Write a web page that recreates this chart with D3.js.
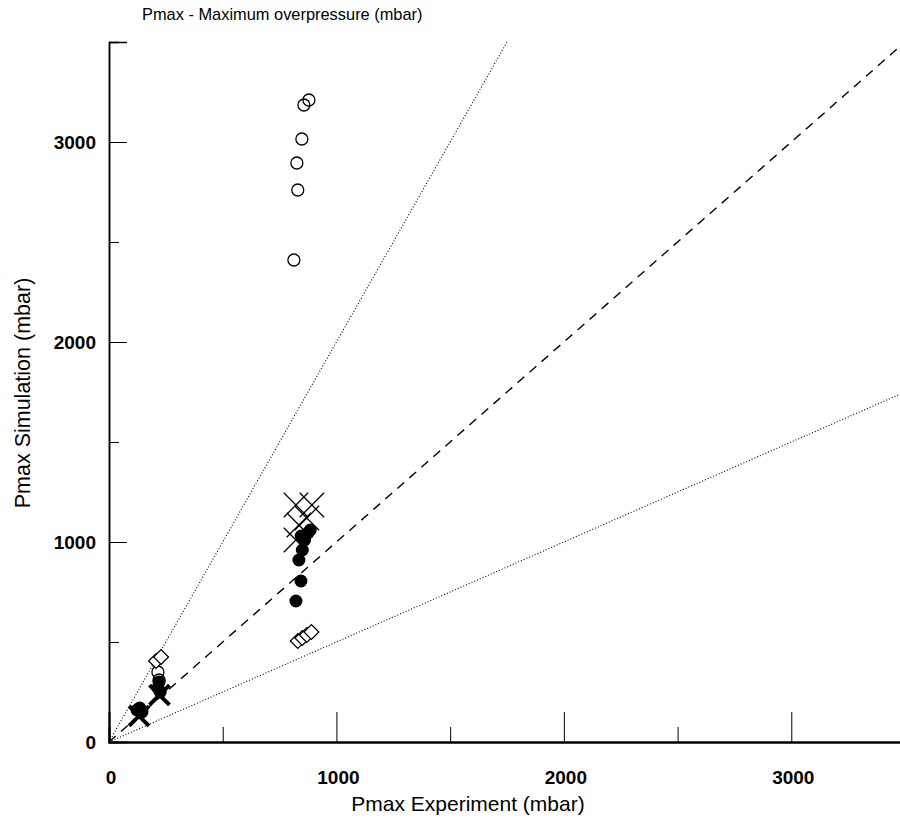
<!DOCTYPE html>
<html>
<head>
<meta charset="utf-8">
<script src="https://cdn.jsdelivr.net/npm/d3@7"></script>
<style>
  body { margin: 0; background: #fff; }
  text { font-family: "Liberation Sans", Arial, sans-serif; fill: #000; }
</style>
</head>
<body>
<svg width="900" height="818"></svg>
<script>
// data (experiment, simulation) in mbar
const openCircles = [[879, 3210], [857, 3185], [848, 3015], [826, 2895], [830, 2760], [813, 2410], [215, 350], [220, 310]];
const filledCircles = [[822, 705], [844, 805], [835, 910], [850, 960], [860, 1010], [845, 1030], [875, 1045], [885, 1060], [220, 300], [215, 270], [225, 250], [123, 160], [135, 170], [145, 150]];
const crosses = [[822, 1185], [892, 1185], [870, 1120], [835, 1085], [822, 1010]];
const boldCrosses = [[222, 235], [132, 130]];
const diamonds = [[830, 505], [850, 520], [870, 535], [890, 550], [207, 405], [229, 425]];
const majorTicks = [1000, 2000, 3000];
const minorTicks = [500, 1500, 2500];
const zeroTick = [0];

const svg = d3.select("svg");

const x = d3.scaleLinear().domain([0, 3500]).range([109, 905]);
const y = d3.scaleLinear().domain([0, 3500]).range([742, 42]);

// reference lines: y = x, y = 2x, y = x/2
const lines = [
  { pts: [[0, 0], [3500, 3500]], dash: "9,7", w: 1.4 },
  { pts: [[0, 0], [1750, 3500]], dash: "1,2", w: 1.1 },
  { pts: [[0, 0], [3500, 1750]], dash: "1,2", w: 1.1 }
];
const line = d3.line().x(d => x(d[0])).y(d => y(d[1]));
svg.selectAll("path.ref")
  .data(lines)
  .enter()
  .append("path")
  .attr("class", "ref")
  .attr("d", d => line(d.pts))
  .attr("fill", "none")
  .attr("stroke", "#000")
  .attr("stroke-width", d => d.w)
  .attr("stroke-dasharray", d => d.dash);

// axes
const gx = svg.append("g").attr("transform", `translate(0,${y(0)})`);
gx.call(d3.axisBottom(x).tickValues(majorTicks).tickSize(-30).tickFormat(""));
gx.append("g").call(d3.axisBottom(x).tickValues(minorTicks).tickSize(-15).tickFormat(""));
gx.selectAll(".domain").attr("stroke-width", 2);
gx.selectAll("g.tick line").attr("stroke-width", 1);

const gy = svg.append("g").attr("transform", `translate(${x(0)},0)`);
gy.call(d3.axisLeft(y).tickValues(majorTicks).tickSize(-18).tickFormat(""));
gy.append("g").call(d3.axisLeft(y).tickValues(minorTicks.concat([3500])).tickSize(-10).tickFormat(""));
gy.selectAll(".domain").attr("stroke-width", 1.5);

// tick labels
svg.selectAll("text.xl")
  .data(zeroTick.concat(majorTicks))
  .enter()
  .append("text")
  .attr("class", "xl")
  .attr("x", d => x(d) + 2)
  .attr("y", 784)
  .attr("text-anchor", "middle")
  .attr("font-size", 19)
  .attr("font-weight", "bold")
  .text(d => d);

svg.selectAll("text.yl")
  .data(zeroTick.concat(majorTicks))
  .enter()
  .append("text")
  .attr("class", "yl")
  .attr("x", 96)
  .attr("y", d => y(d) + 7)
  .attr("text-anchor", "end")
  .attr("font-size", 19)
  .attr("font-weight", "bold")
  .text(d => d);

// titles
svg.append("text")
  .attr("x", 142).attr("y", 20)
  .attr("font-size", 16.4)
  .text("Pmax - Maximum overpressure (mbar)");

svg.append("text")
  .attr("x", 468).attr("y", 811)
  .attr("text-anchor", "middle")
  .attr("font-size", 21)
  .text("Pmax Experiment (mbar)");

svg.append("text")
  .attr("transform", "translate(30,393) rotate(-90)")
  .attr("text-anchor", "middle")
  .attr("font-size", 21.5)
  .text("Pmax Simulation (mbar)");

// markers
svg.selectAll("circle.open")
  .data(openCircles)
  .enter()
  .append("circle")
  .attr("class", "open")
  .attr("cx", d => x(d[0]))
  .attr("cy", d => y(d[1]))
  .attr("r", 6)
  .attr("fill", "none")
  .attr("stroke", "#000")
  .attr("stroke-width", 1.3);

svg.selectAll("circle.filled")
  .data(filledCircles)
  .enter()
  .append("circle")
  .attr("class", "filled")
  .attr("cx", d => x(d[0]))
  .attr("cy", d => y(d[1]))
  .attr("r", 6.5)
  .attr("fill", "#000");

const times = d3.symbol().type(d3.symbolTimes).size(390);
svg.selectAll("path.cross")
  .data(crosses)
  .enter()
  .append("path")
  .attr("class", "cross")
  .attr("transform", d => `translate(${x(d[0])},${y(d[1])})`)
  .attr("d", times)
  .attr("fill", "none")
  .attr("stroke", "#000")
  .attr("stroke-width", 1.3);

const boldTimes = d3.symbol().type(d3.symbolTimes).size(260);
svg.selectAll("path.bcross")
  .data(boldCrosses)
  .enter()
  .append("path")
  .attr("class", "bcross")
  .attr("transform", d => `translate(${x(d[0])},${y(d[1])})`)
  .attr("d", boldTimes)
  .attr("fill", "none")
  .attr("stroke", "#000")
  .attr("stroke-width", 4);

const square = d3.symbol().type(d3.symbolSquare).size(110);
svg.selectAll("path.diamond")
  .data(diamonds)
  .enter()
  .append("path")
  .attr("class", "diamond")
  .attr("transform", d => `translate(${x(d[0])},${y(d[1])}) rotate(45)`)
  .attr("d", square)
  .attr("fill", "#fff")
  .attr("stroke", "#000")
  .attr("stroke-width", 1.3);
</script>
</body>
</html>
